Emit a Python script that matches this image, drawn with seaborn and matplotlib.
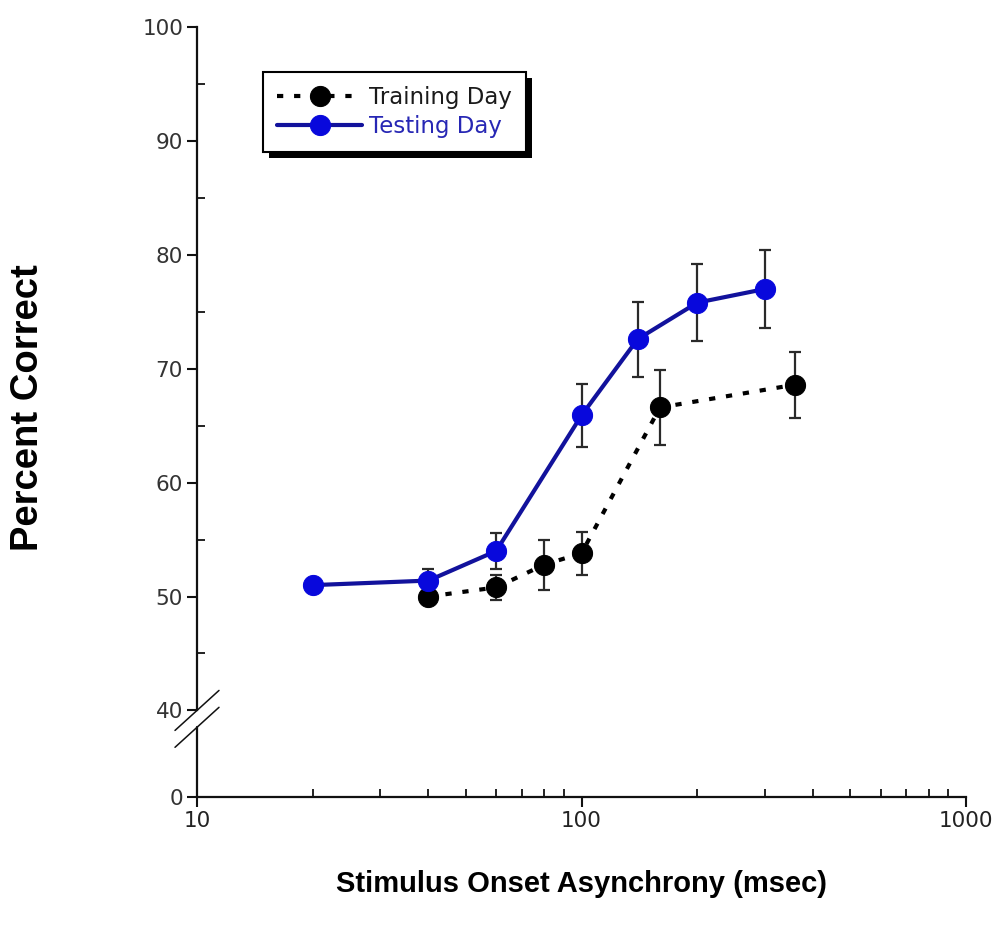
import numpy as np
import pandas as pd
import matplotlib
matplotlib.use("Agg")
import matplotlib.pyplot as plt
import matplotlib.transforms as mtransforms
from matplotlib.patches import Rectangle
from matplotlib.ticker import NullFormatter, FixedLocator
import seaborn as sns

# Stimulus onset asynchrony (msec) and percent correct, mean +/- SEM
soa_training = [40, 60, 80, 100, 160, 360]
pct_training = [50.0, 50.8, 52.8, 53.8, 66.6, 68.6]
sem_training = [0.6, 1.1, 2.2, 1.9, 3.3, 2.9]

soa_testing = [20, 40, 60, 100, 140, 200, 300]
pct_testing = [51.0, 51.4, 54.0, 65.9, 72.6, 75.8, 77.0]
sem_testing = [0.4, 1.0, 1.6, 2.8, 3.3, 3.4, 3.4]

series_names = ["Training Day", "Testing Day"]
x_ticks = [10, 100, 1000]
y_ticks = [0, 40, 50, 60, 70, 80, 90, 100]
y_minor = [45, 55, 65, 75, 85, 95]

training = pd.DataFrame({"soa": soa_training, "pct": pct_training, "sem": sem_training})
testing = pd.DataFrame({"soa": soa_testing, "pct": pct_testing, "sem": sem_testing})

# broken y axis: the 0-40 stretch is squeezed
BREAK = 40.0
SQUEEZE = 0.19


def squeeze_fwd(y):
    y = np.asarray(y, dtype=float)
    return np.where(y < BREAK, y * SQUEEZE, BREAK * SQUEEZE + (y - BREAK))


def squeeze_inv(v):
    v = np.asarray(v, dtype=float)
    return np.where(v < BREAK * SQUEEZE, v / SQUEEZE, v - BREAK * SQUEEZE + BREAK)


sns.set_theme(style="ticks")
plt.rcParams["font.family"] = ["DejaVu Sans"]
plt.rcParams["text.color"] = "black"
plt.rcParams["axes.labelcolor"] = "black"

W, H = 1005, 931
fig = plt.figure(figsize=(W / 100, H / 100), dpi=100)
ax = fig.add_axes([197 / W, 1 - 797 / H, 769 / W, 770 / H])
ax.set_xscale("log")

train_col = "black"
test_line = "#12129c"
test_face = "#0808dc"
err_col = "#2a2a2a"

ax.errorbar(training["soa"], training["pct"], yerr=training["sem"], fmt="none",
            ecolor=err_col, elinewidth=1.6, capsize=4.6, capthick=1.6, zorder=2)
ax.errorbar(testing["soa"], testing["pct"], yerr=testing["sem"], fmt="none",
            ecolor=err_col, elinewidth=1.6, capsize=4.6, capthick=1.6, zorder=2)

sns.lineplot(data=training, x="soa", y="pct", ax=ax, estimator=None,
             color=train_col, linestyle=(0, (1.5, 2.6)), linewidth=3.0,
             marker="o", markersize=14.5, markerfacecolor=train_col,
             markeredgecolor=train_col, label=series_names[0], zorder=3)
sns.lineplot(data=testing, x="soa", y="pct", ax=ax, estimator=None,
             color=test_line, linewidth=3.0,
             marker="o", markersize=14.5, markerfacecolor=test_face,
             markeredgecolor=test_face, label=series_names[1], zorder=4)

ax.set_yscale("function", functions=(squeeze_fwd, squeeze_inv))
ax.set_xlim(10, 1000)
ax.set_ylim(0, 100)
ax.set_xlabel("")
ax.set_ylabel("")

ax.xaxis.set_major_locator(FixedLocator(x_ticks))
ax.set_xticklabels([str(t) for t in x_ticks])
ax.xaxis.set_minor_locator(FixedLocator(
    [m * d for d in (10, 100) for m in range(2, 10)]))
ax.xaxis.set_minor_formatter(NullFormatter())
ax.yaxis.set_major_locator(FixedLocator(y_ticks))
ax.set_yticklabels([str(t) for t in y_ticks])
ax.yaxis.set_minor_locator(FixedLocator(y_minor))
ax.yaxis.set_minor_formatter(NullFormatter())

ax.tick_params(axis="both", which="major", direction="out", length=7, width=1.5,
               pad=3, labelsize=15.5, colors="#111111")
ax.tick_params(axis="y", which="major", labelcolor="#333333")
ax.tick_params(axis="x", which="major", labelcolor="#222222")
ax.tick_params(axis="both", which="minor", direction="in", length=6, width=1.3,
               colors="#111111")

for side in ("top", "right"):
    ax.spines[side].set_visible(False)
for side in ("left", "bottom"):
    ax.spines[side].set_linewidth(1.6)
    ax.spines[side].set_color("#111111")
ax.spines["left"].set_bounds(BREAK, 100)
ax.plot([0, 0], [0, 32.2], transform=ax.get_yaxis_transform(), color="#111111",
        lw=1.6, clip_on=False, zorder=5)

# legend
handles, labels = ax.get_legend_handles_labels()
leg = ax.legend(handles, labels, loc="upper left", bbox_to_anchor=(0.0858, 0.9415),
                borderaxespad=0, frameon=True, fancybox=False, framealpha=1,
                edgecolor="black", fontsize=16.5, handlelength=3.7, handletextpad=0.3,
                labelspacing=0.25, borderpad=0.62, numpoints=1)
leg.get_frame().set_linewidth(1.5)
leg.get_texts()[0].set_color("#1a1a1a")
leg.get_texts()[1].set_color("#2727b4")
leg.set_zorder(10)

# axis titles
fig.text(28 / W, 1 - 408 / H, "Percent Correct", rotation=90, ha="center", va="center",
         fontsize=27.5, fontweight="bold", color="black",
         family=["Liberation Sans", "DejaVu Sans"])
fig.text(581 / W, 1 - 884 / H, "Stimulus Onset Asynchrony (msec)", ha="center",
         va="center", fontsize=21, fontweight="bold", color="black",
         family=["Liberation Sans", "DejaVu Sans"])

# drop shadow for the legend box and the axis break marks
fig.canvas.draw()
bb = leg.get_frame().get_window_extent()
shadow = Rectangle((bb.x0 + 6, bb.y0 - 6), bb.width, bb.height, facecolor="black",
                   edgecolor="none", transform=mtransforms.IdentityTransform(),
                   zorder=9, clip_on=False)
ax.add_artist(shadow)

ident = mtransforms.IdentityTransform()
for yv in (BREAK, 32.2):
    px, py = ax.get_yaxis_transform().transform((0, yv))
    ax.plot([px - 22, px + 22], [py - 20, py + 20], transform=ident, color="#111111",
            lw=1.1, clip_on=False, zorder=6)

fig.savefig("out.png", dpi=100, facecolor="white")
